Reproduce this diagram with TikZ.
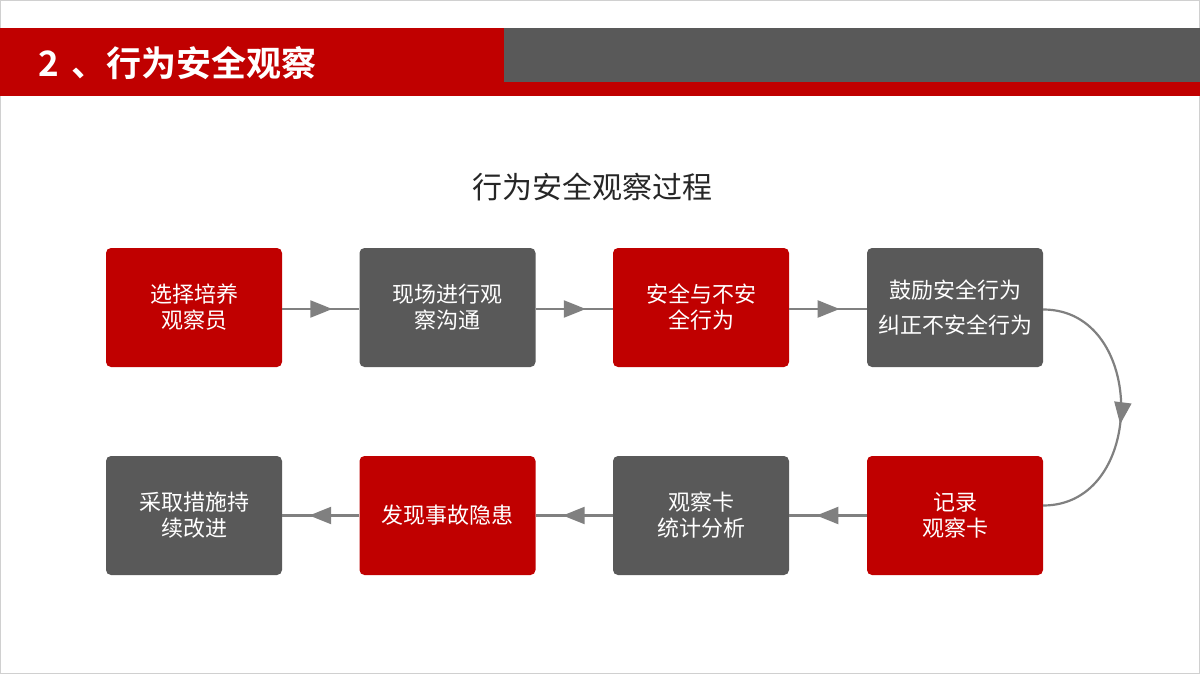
\documentclass[tikz,border=0pt]{standalone}
\usepackage{fontspec}
\setmainfont{Noto Sans CJK SC}
\newfontfamily\cjkbold{Noto Sans CJK SC Bold}
\usetikzlibrary{arrows.meta,decorations.markings}
\definecolor{hdred}{HTML}{C00000}
\definecolor{hdgray}{HTML}{595959}
\definecolor{arrgray}{HTML}{808080}
\definecolor{frame}{HTML}{D0D0D0}
\tikzset{
  box/.style={rounded corners=5pt, minimum width=176pt, minimum height=119pt, inner sep=0pt,
    text=white, align=center, font=\fontsize{22}{26}\selectfont},
  redbox/.style={box, fill=hdred},
  graybox/.style={box, fill=hdgray},
  flow/.style={draw=arrgray, line width=2.2pt, postaction={decorate},
    decoration={markings, mark=at position #1 with {\arrow[arrgray]{Triangle[length=22pt,width=17pt]}}}},
  flow/.default=0.65
}
\begin{document}
\begin{tikzpicture}[x=1pt,y=-1pt]
\useasboundingbox (0,0) rectangle (1200,674);
\fill[white] (0,0) rectangle (1200,674);
\draw[frame, line width=1pt] (0.5,0.5) rectangle (1199.5,673.5);
% header
\fill[hdred] (0,28) rectangle (1200,96);
\fill[hdgray] (504,28) rectangle (1200,82);
\node[anchor=west, text=white, font=\cjkbold\fontsize{35}{40}\selectfont, inner sep=0pt] (head) at (38,63) {2\hspace{0.35em}、行为安全观察};
% title
\node[font=\fontsize{30}{36}\selectfont, text=black!85] (title) at (592,187) {行为安全观察过程};
% boxes row 1
\node[redbox] (b1) at (194,307.5) {选择培养\\观察员};
\node[graybox] (b2) at (447.5,307.5) {现场进行观\\察沟通};
\node[redbox] (b3) at (701,307.5) {安全与不安\\全行为};
\node[graybox, font=\fontsize{22}{35}\selectfont] (b4) at (955,307.5) {鼓励安全行为\\纠正不安全行为};
% row 2
\node[graybox] (b8) at (194,515.5) {采取措施持\\续改进};
\node[redbox] (b7) at (447.5,515.5) {发现事故隐患};
\node[graybox] (b6) at (701,515.5) {观察卡\\统计分析};
\node[redbox] (b5) at (955,515.5) {记录\\观察卡};
% connectors
\path[flow] ([yshift=-1.5pt]b1.east) -- ([yshift=-1.5pt]b2.west);
\path[flow] ([yshift=-1.5pt]b2.east) -- ([yshift=-1.5pt]b3.west);
\path[flow] ([yshift=-1.5pt]b3.east) -- ([yshift=-1.5pt]b4.west);
\path[flow=0.56] ([yshift=-2pt]b4.east) .. controls +(104,0) and +(104,0) .. ([yshift=10pt]b5.east);
\path[flow] (b5.west) -- (b6.east);
\path[flow] (b6.west) -- (b7.east);
\path[flow] (b7.west) -- (b8.east);
\end{tikzpicture}
\end{document}
